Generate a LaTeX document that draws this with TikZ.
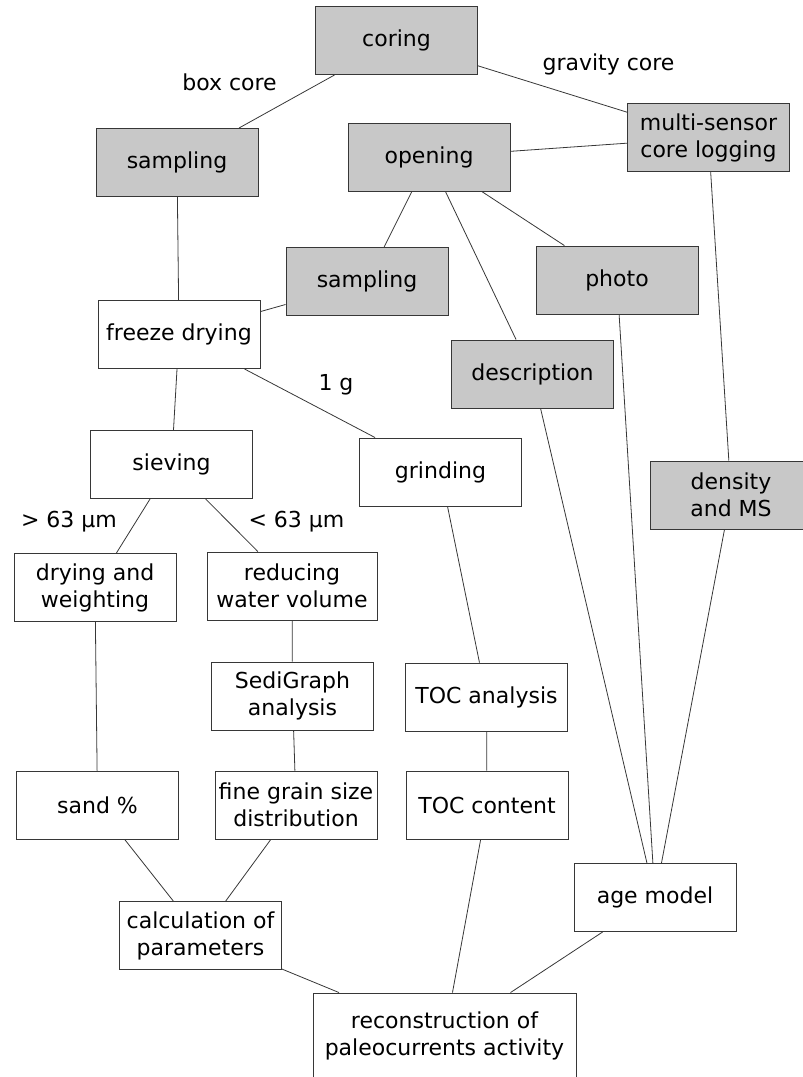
\documentclass[tikz,border=0pt]{standalone}
\usepackage{fontspec}
\setmainfont{DejaVu Sans}
\usetikzlibrary{positioning}
\definecolor{coregray}{RGB}{200,200,200}
\definecolor{edgegray}{RGB}{55,55,55}

\begin{document}
\begin{tikzpicture}[x=1pt,y=-1pt,
    every node/.style={font=\fontsize{22}{27}\selectfont, align=center},
    proc/.style={draw=edgegray, line width=0.9pt, minimum width=162pt, minimum height=68pt, inner sep=2pt},
    core/.style={proc, fill=coregray},
    tag/.style={inner sep=0pt},
    link/.style={draw=edgegray, line width=0.8pt}]
  \useasboundingbox (0,0) rectangle (803,1077);
  \clip (0,0) rectangle (803,1077);

  \node[core] (coring) at (396.5,40.5) {coring};
  \node[core] (boxsampling) at (177,162.5) {sampling};
  \node[core] (opening) at (429,157) {opening};
  \node[core] (logging) at (708.5,137.5) {multi-sensor\\core logging};
  \node[core] (coresampling) at (367,281.5) {sampling};
  \node[core] (photo) at (617,280) {photo};
  \node[core] (description) at (532.5,374) {description};
  \node[core] (density) at (731,495) {density\\and MS};

  \node[proc] (freeze) at (179,334.5) {freeze drying};
  \node[proc] (sieving) at (171.5,464.5) {sieving};
  \node[proc] (grinding) at (440.5,472) {grinding};
  \node[proc] (drying) at (95,587.5) {drying and\\weighting};
  \node[proc, minimum width=170pt] (reducing) at (292,586) {reducing\\water volume};
  \node[proc] (sedigraph) at (292.5,696) {SediGraph\\analysis};
  \node[proc] (tocanalysis) at (486.5,697) {TOC analysis};
  \node[proc] (sand) at (97.5,805) {sand \%};
  \node[proc] (finegrain) at (296,805) {fine grain size\\distribution};
  \node[proc] (toccontent) at (487,805) {TOC content};
  \node[proc] (agemodel) at (655,897.5) {age model};
  \node[proc] (calc) at (200.5,935.5) {calculation of\\parameters};
  \node[proc, minimum width=263pt, minimum height=86pt] (recon) at (444.5,1036) {reconstruction of\\paleocurrents activity};

  \node[tag] (boxcore) at (229.5,82) {box core};
  \node[tag] (gravitycore) at (608.5,64) {gravity core};
  \node[tag] (onegram) at (336,385) {1 g};
  \node[tag] (coarse) at (69,522) {> 63 µm};
  \node[tag] (fine) at (296.5,522) {< 63 µm};

  \foreach \a/\b in {coring/boxsampling, coring/logging, opening/logging,
      opening/coresampling, opening/photo, opening/description,
      boxsampling/freeze, coresampling/freeze, freeze/sieving, freeze/grinding,
      sieving/drying, sieving/reducing, reducing/sedigraph, sedigraph/finegrain,
      drying/sand, sand/calc, finegrain/calc, grinding/tocanalysis,
      tocanalysis/toccontent, logging/density, description/agemodel,
      photo/agemodel, density/agemodel, calc/recon, toccontent/recon, agemodel/recon}
    \draw[link] (\a) -- (\b);
\end{tikzpicture}
\end{document}
